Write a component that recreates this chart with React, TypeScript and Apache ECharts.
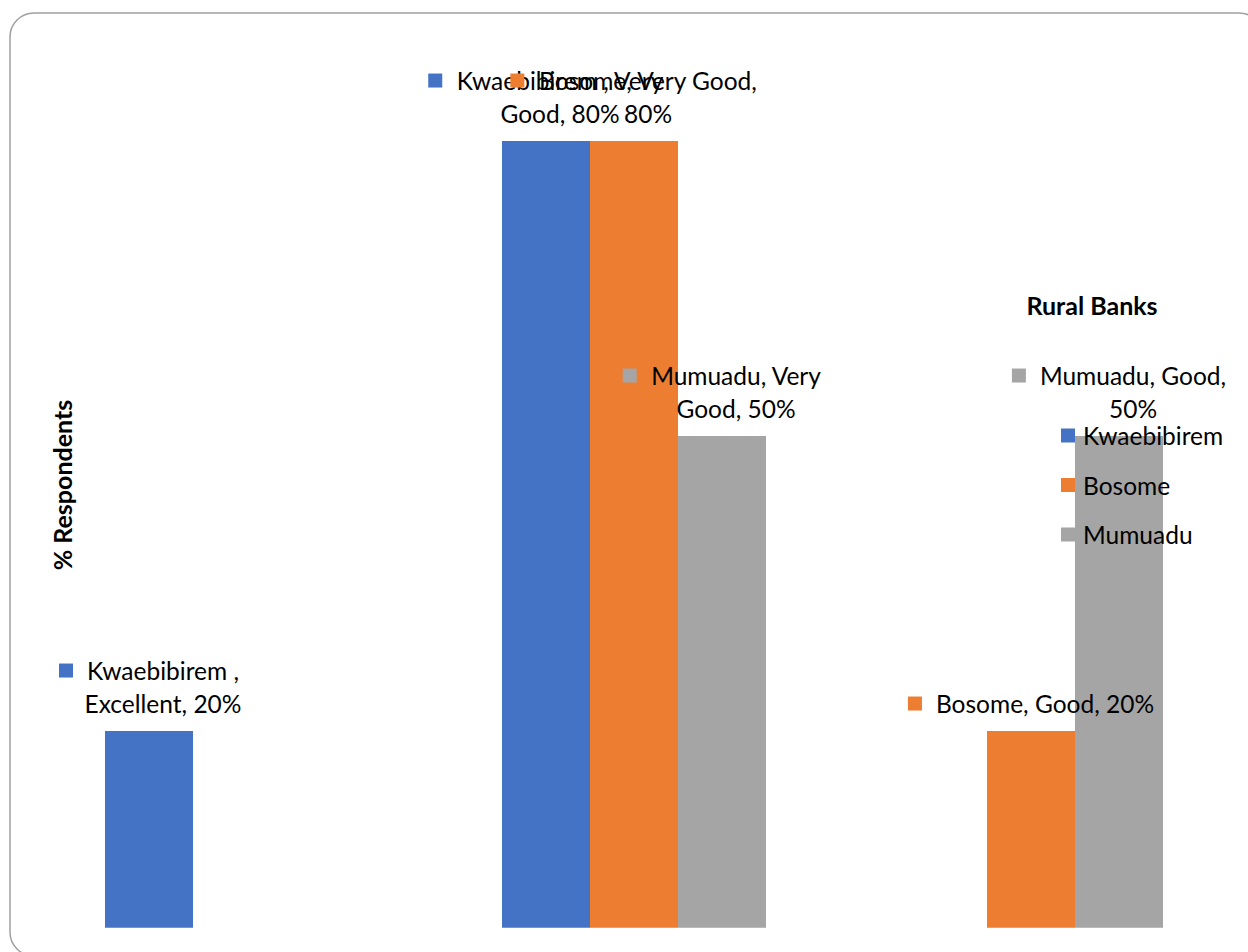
import React, { useEffect, useRef } from "react";
import * as echarts from "echarts";

const categories = ["Excellent", "Very Good", "Good"];
const seriesNames = ["Kwaebibirem ", "Bosome", "Mumuadu"];
const kwaebibirem: (number | null)[] = [20, 80, null];
const bosome: (number | null)[] = [null, 80, 20];
const mumuadu: (number | null)[] = [null, 50, 50];
const seriesValues = [kwaebibirem, bosome, mumuadu];
const colors = ["#4472C4", "#ED7D31", "#A5A5A5"];
const yAxisTitle = "% Respondents";
const legendTitle = "Rural Banks";

const FONT = "Lato";
const FS = 24.5;
const WRAP = 237;

function wrapText(text: string): string[] {
  const ctx = document.createElement("canvas").getContext("2d") as CanvasRenderingContext2D;
  ctx.font = `${FS}px ${FONT}`;
  const words = text.split(" ");
  const lines: string[] = [];
  let cur = "";
  for (const w of words) {
    const trial = cur ? cur + " " + w : w;
    if (cur && ctx.measureText(trial).width > WRAP) {
      lines.push(cur);
      cur = w;
    } else {
      cur = trial;
    }
  }
  if (cur) lines.push(cur);
  return lines;
}

export default function App() {
  const ref = useRef<HTMLDivElement>(null);
  useEffect(() => {
    if (!ref.current) return;
    const chart = echarts.init(ref.current, null, { renderer: "svg" });
    const series = seriesNames.map((name, i) => ({
      name,
      type: "bar",
      data: seriesValues[i],
      barGap: "0%",
      barCategoryGap: "33.5%",
      itemStyle: { color: colors[i] },
      label: {
        show: true,
        position: "top",
        distance: 11,
        formatter: (p: any) => {
          const lines = wrapText(`${p.seriesName}, ${p.name}, ${p.value}%`);
          let s = `{m|}{g|}{t|${lines[0]}}`;
          for (let k = 1; k < lines.length; k++) s += `\n{g2|}{t|${lines[k]}}`;
          return s;
        },
        rich: {
          m: { width: 14, height: 14, backgroundColor: colors[i] },
          g: { width: 14, height: 14 },
          g2: { width: 28, height: 14 },
          t: { fontFamily: FONT, fontSize: FS, color: "#000", lineHeight: 33 },
        },
      },
    }));
    chart.setOption({
      animation: false,
      textStyle: { fontFamily: FONT },
      grid: { left: 38.5, right: 18.5, top: 42.7, bottom: 24.3, containLabel: false },
      xAxis: {
        type: "category",
        data: categories,
        axisLine: { show: false },
        axisTick: { show: false },
        axisLabel: { show: false },
      },
      yAxis: {
        type: "value",
        min: 0,
        max: 90,
        axisLine: { show: false },
        axisTick: { show: false },
        axisLabel: { show: false },
        splitLine: { show: false },
      },
      legend: {
        orient: "vertical",
        left: 1056,
        top: 418,
        itemWidth: 14,
        itemHeight: 14,
        itemGap: 24.5,
        icon: "rect",
        data: seriesNames,
        formatter: (n: string) => n.trim(),
        textStyle: { fontFamily: FONT, fontSize: FS, color: "#000", lineHeight: 24, padding: [0, 0, 0, 3] },
      },
      graphic: [
        {
          type: "rect",
          shape: { x: 10, y: 13, width: 1253, height: 943, r: 24 },
          style: { fill: "none", stroke: "#A0A0A0", lineWidth: 1.5 },
          z: -1,
        },
        {
          type: "text",
          x: 62,
          y: 485,
          rotation: Math.PI / 2,
          style: {
            text: yAxisTitle,
            fontFamily: FONT,
            fontSize: 25,
            fontWeight: "bold",
            fill: "#000",
            align: "center",
            verticalAlign: "middle",
          },
        },
        {
          type: "text",
          x: 1092,
          y: 305,
          style: {
            text: legendTitle,
            fontFamily: FONT,
            fontSize: 25,
            fontWeight: "bold",
            fill: "#000",
            align: "center",
            verticalAlign: "middle",
          },
        },
      ],
      series,
    });
    return () => chart.dispose();
  }, []);
  return (
    <div
      ref={ref}
      style={{ position: "fixed", left: 0, top: 0, width: 1248, height: 952, background: "#fff" }}
    />
  );
}
